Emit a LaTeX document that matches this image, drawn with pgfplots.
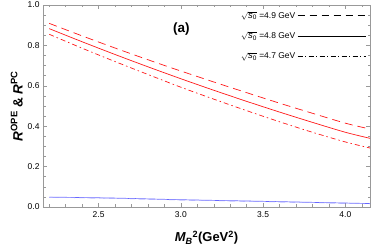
\documentclass[border=0pt]{standalone}
\usepackage{pgfplots}
\pgfplotsset{compat=1.18}
\usepackage{fontspec}
\setmainfont{Liberation Sans}
\pgfplotstableread{
x y
2.2 0.909
2.4 0.847
2.6 0.787
2.8 0.729
3.0 0.673
3.2 0.619
3.4 0.566
3.6 0.514
3.8 0.464
4.0 0.415
4.15 0.386
}\dashedA
\pgfplotstableread{
x y
2.2 0.883
2.4 0.818
2.6 0.755
2.8 0.694
3.0 0.635
3.2 0.578
3.4 0.523
3.6 0.470
3.8 0.419
4.0 0.370
4.15 0.340
}\solidB
\pgfplotstableread{
x y
2.2 0.855
2.4 0.786
2.6 0.720
2.8 0.656
3.0 0.593
3.2 0.534
3.4 0.477
3.6 0.422
3.8 0.370
4.0 0.322
4.15 0.292
}\dashdotC
\pgfplotstableread{
x y
2.2 0.049
2.6 0.044
3.0 0.036
3.5 0.028
4.15 0.017
}\blueA
\pgfplotstableread{
x y
2.2 0.048
2.6 0.043
3.0 0.035
3.5 0.027
4.15 0.016
}\blueB
\definecolor{curvered}{rgb}{1,0.1,0.1}
\definecolor{curveblue}{rgb}{0.4,0.4,1}
\newcommand{\sqs}{$\sqrt{\mbox{\fontsize{9.5}{10}\selectfont\itshape s}_{\mbox{\fontsize{6.5}{7}\selectfont 0}}}$}
\begin{document}
\begin{tikzpicture}
\begin{axis}[
  scale only axis, width=327bp, height=202bp,
  xmin=2.162, xmax=4.15, ymin=0, ymax=1,
  xtick={2.5,3,3.5,4},
  minor xtick={2.2,2.3,2.4,2.6,2.7,2.8,2.9,3.1,3.2,3.3,3.4,3.6,3.7,3.8,3.9,4.1},
  ytick={0,0.2,0.4,0.6,0.8,1},
  minor ytick={0.05,0.1,0.15,0.25,0.3,0.35,0.45,0.5,0.55,0.65,0.7,0.75,0.85,0.9,0.95},
  /pgf/number format/fixed, /pgf/number format/fixed zerofill, /pgf/number format/precision=1,
  /pgf/number format/assume math mode=true,
  tick align=inside, major tick length=4bp, minor tick length=2.5bp,
  axis line style={gray!80}, tick style={gray!80, line width=0.4bp},
  tick label style={font=\fontsize{8.5}{10}\selectfont},
  xticklabel style={yshift=-1bp},
  xlabel={\bfseries\itshape M\textsubscript{B}\textsuperscript{\upshape 2}\upshape(GeV\textsuperscript{2})},
  ylabel={\bfseries\itshape R\textsuperscript{\upshape OPE}\upshape{} \& \itshape R\textsuperscript{\upshape PC}},
  xlabel style={font=\fontsize{13}{15}\selectfont, at={(axis description cs:0.5,-0.153)}, anchor=center},
  ylabel style={font=\fontsize{13.5}{15}\selectfont, at={(axis description cs:-0.08,0.5)}, anchor=center},
  legend style={draw=none, fill=none, at={(axis description cs:0.988,0.978)}, anchor=north east,
    font=\fontsize{8.5}{10}\selectfont, inner sep=0pt, row sep=8.5bp},
  legend plot pos=right, legend cell align=left,
  legend image code/.code={\draw[#1, line width=0.6bp] (0bp,0bp) -- (68bp,0bp);},
]
\addlegendimage{black, dash pattern=on 7bp off 5bp}
\addlegendentry{\sqs\ =4.9 GeV}
\addlegendimage{black}
\addlegendentry{\sqs\ =4.8 GeV}
\addlegendimage{black, dash pattern=on 5bp off 2.5bp on 1bp off 2.5bp}
\addlegendentry{\sqs\ =4.7 GeV}

\addplot[forget plot, curvered, line width=0.7bp, smooth, dash pattern=on 8bp off 5bp] table {\dashedA};
\addplot[forget plot, curvered, line width=0.7bp, smooth] table {\solidB};
\addplot[forget plot, curvered, line width=0.7bp, smooth, dash pattern=on 5bp off 3bp on 1.5bp off 3bp] table {\dashdotC};
\addplot[forget plot, curveblue, line width=0.7bp, smooth] table {\blueA};
\addplot[forget plot, curveblue!60, line width=0.7bp, smooth, dash pattern=on 6bp off 4bp] table {\blueB};

\node[font=\bfseries\fontsize{13.5}{15}\selectfont] at (axis cs:3.003,0.880) {(a)};
\end{axis}
\pgfresetboundingbox
\path (-43bp,-40bp) rectangle (328bp,207bp);
\end{tikzpicture}
\end{document}
